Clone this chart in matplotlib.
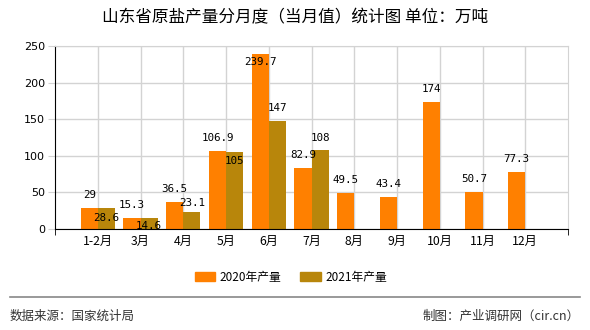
import matplotlib
matplotlib.use("Agg")
import matplotlib.pyplot as plt
from matplotlib.patches import Patch

plt.rcParams['font.family'] = ['Noto Sans CJK SC', 'DejaVu Sans']

months = ["1-2月", "3月", "4月", "5月", "6月", "7月", "8月", "9月", "10月", "11月", "12月"]
output_2020 = [29, 15.3, 36.5, 106.9, 239.7, 82.9, 49.5, 43.4, 174, 50.7, 77.3]
output_2021 = [28.6, 14.6, 23.1, 105, 147, 108]
series_names = ["2020年产量", "2021年产量"]

# vertical placement of value labels relative to bar top, in pixels
label_dy_2020 = [13, 13, 13, 13, -8, 13, 13, 13, 13, 13, 13]
label_dy_2021 = [-10, -8, 9, -9, 13, 12]

c2020 = "#FF8000"
c2021 = "#B8860B"
grid_c = "#D3D3D3"

W, H = 590, 330
fig = plt.figure(figsize=(W / 100, H / 100), dpi=100)
ax = fig.add_axes([55 / W, 1 - 229 / H, (568 - 55) / W, (229 - 46) / H])

bw = 0.4
x = list(range(len(months)))
ax.bar([i - bw / 2 for i in x], output_2020, width=bw, color=c2020, zorder=3)
ax.bar([i + bw / 2 for i in range(len(output_2021))], output_2021, width=bw,
       color=c2021, zorder=3)

mono = dict(family="DejaVu Sans Mono", fontsize=7.8, color="black",
            ha="center", va="center", zorder=5)
for i, v in enumerate(output_2020):
    ax.annotate(f"{v:g}", (i - bw / 2, v), xytext=(0, label_dy_2020[i]),
                textcoords="offset pixels", **mono)
for i, v in enumerate(output_2021):
    ax.annotate(f"{v:g}", (i + bw / 2, v), xytext=(0, label_dy_2021[i]),
                textcoords="offset pixels", **mono)

ax.set_xlim(-1, 11)
ax.set_ylim(0, 250)
ax.set_yticks(range(0, 251, 50))
ax.set_xticks(x)
ax.set_xticklabels(months, fontsize=8.8)
ax.set_xticks([-1, 11], minor=True)
ax.tick_params(axis="x", which="major", length=0, pad=4)
ax.tick_params(axis="x", which="minor", length=4, color="black")
ax.tick_params(axis="y", length=5, color=grid_c, pad=2, labelsize=8)
for t in ax.get_yticklabels():
    t.set_family("DejaVu Sans")

ax.grid(True, color=grid_c, linewidth=1, zorder=0)
ax.set_axisbelow(True)
for side in ("top", "right"):
    ax.spines[side].set_color(grid_c)
ax.spines["left"].set_color("black")
ax.spines["bottom"].set_color("black")
ax.spines["bottom"].set_zorder(4)

fig.text(0.5, 1 - 18 / H, "山东省原盐产量分月度（当月值）统计图 单位：万吨",
         ha="center", va="center", fontsize=12, color="black")

handles = [Patch(color=c2020, label=series_names[0]),
           Patch(color=c2021, label=series_names[1])]
fig.legend(handles=handles, loc="center", bbox_to_anchor=(291 / W, 1 - 277 / H),
           ncol=2, frameon=False, fontsize=8.5, handlelength=1.7,
           handleheight=0.7, columnspacing=1.6, handletextpad=0.4)

fig.add_artist(plt.Line2D([10 / W, 580 / W], [1 - 297 / H] * 2, color="#888888",
                          linewidth=1.2, transform=fig.transFigure))
fig.text(10 / W, 1 - 316 / H, "数据来源：国家统计局", ha="left", va="center",
         fontsize=9, color="#333333")
fig.text(580 / W, 1 - 316 / H, "制图：产业调研网（cir.cn）", ha="right", va="center",
         fontsize=9, color="#333333")

fig.savefig("out.png", dpi=100)
